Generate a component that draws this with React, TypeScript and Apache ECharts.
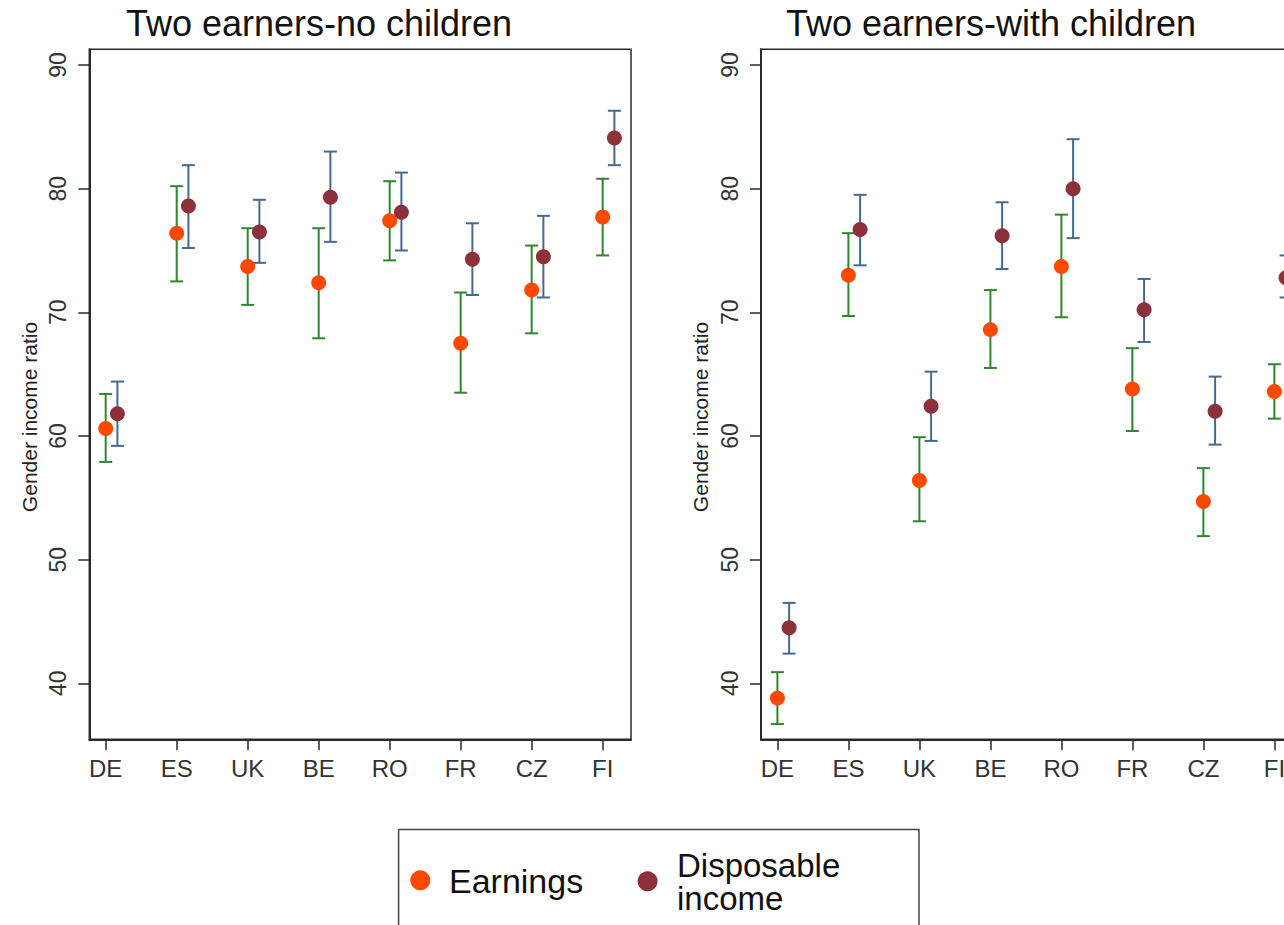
import React, { useEffect, useRef } from "react";
import * as echarts from "echarts";

const categories = ["DE", "ES", "UK", "BE", "RO", "FR", "CZ", "FI"];
const yTicks = [40, 50, 60, 70, 80, 90];

// Two earners - no children
const earnNoKids = [60.6, 76.4, 73.7, 72.4, 77.4, 67.5, 71.8, 77.7];
const earnNoKidsLo = [57.9, 72.5, 70.6, 67.9, 74.2, 63.5, 68.3, 74.6];
const earnNoKidsHi = [63.4, 80.2, 76.8, 76.8, 80.6, 71.6, 75.4, 80.8];
const dispNoKids = [61.8, 78.6, 76.5, 79.3, 78.1, 74.3, 74.5, 84.1];
const dispNoKidsLo = [59.2, 75.2, 74.0, 75.7, 75.0, 71.4, 71.2, 81.9];
const dispNoKidsHi = [64.4, 81.9, 79.1, 83.0, 81.3, 77.2, 77.8, 86.3];

// Two earners - with children
const earnKids = [38.8, 73.0, 56.4, 68.6, 73.7, 63.8, 54.7, 63.6];
const earnKidsLo = [36.7, 69.7, 53.1, 65.5, 69.6, 60.4, 51.9, 61.4];
const earnKidsHi = [40.9, 76.4, 59.9, 71.8, 77.9, 67.1, 57.4, 65.8];
const dispKids = [44.5, 76.7, 62.4, 76.2, 80.0, 70.2, 62.0, 72.8];
const dispKidsLo = [42.4, 73.8, 59.6, 73.5, 76.0, 67.6, 59.3, 71.2];
const dispKidsHi = [46.5, 79.5, 65.2, 78.9, 84.0, 72.7, 64.8, 74.6];

const titles = ["Two earners-no children", "Two earners-with children"];
const legendEarn = "Earnings";
const legendDispLines = ["Disposable", "income"];
const yName = "Gender income ratio";

const FONT = "'Liberation Sans', Arial, Helvetica, sans-serif";
const EARN_COLOR = "#ff4800";
const DISP_COLOR = "#8c303a";
const EARN_CI = "#2e862e";
const DISP_CI = "#46698f";
const AXIS_COLOR = "#2a2a2a";
const DISP_OFFSET = 0.165;

const tickPositions = categories.map((_, i) => i + 1);

function errRender(color: string) {
  return (params: any, api: any) => {
    const x = api.value(0);
    const lo = api.value(1);
    const hi = api.value(2);
    const top = api.coord([x, hi]);
    const bot = api.coord([x, lo]);
    const hw = 6.5;
    const style = { stroke: color, lineWidth: 2 };
    return {
      type: "group",
      children: [
        { type: "line", shape: { x1: top[0], y1: top[1], x2: bot[0], y2: bot[1] }, style },
        { type: "line", shape: { x1: top[0] - hw, y1: top[1], x2: top[0] + hw, y2: top[1] }, style },
        { type: "line", shape: { x1: bot[0] - hw, y1: bot[1], x2: bot[0] + hw, y2: bot[1] }, style },
      ],
    };
  };
}

function panelSeries(
  idx: number,
  earn: number[],
  earnLo: number[],
  earnHi: number[],
  disp: number[],
  dispLo: number[],
  dispHi: number[]
) {
  return [
    {
      type: "custom",
      xAxisIndex: idx,
      yAxisIndex: idx,
      renderItem: errRender(EARN_CI),
      encode: { x: 0, y: [1, 2] },
      data: earn.map((_, i) => [i + 1, earnLo[i], earnHi[i]]),
      z: 2,
      clip: false,
    },
    {
      type: "custom",
      xAxisIndex: idx,
      yAxisIndex: idx,
      renderItem: errRender(DISP_CI),
      encode: { x: 0, y: [1, 2] },
      data: disp.map((_, i) => [i + 1 + DISP_OFFSET, dispLo[i], dispHi[i]]),
      z: 2,
      clip: false,
    },
    {
      type: "scatter",
      name: "Earnings",
      xAxisIndex: idx,
      yAxisIndex: idx,
      symbolSize: 15,
      itemStyle: { color: EARN_COLOR, opacity: 1 },
      data: earn.map((v, i) => [i + 1, v]),
      z: 5,
    },
    {
      type: "scatter",
      name: "Disposable income",
      xAxisIndex: idx,
      yAxisIndex: idx,
      symbolSize: 15,
      itemStyle: { color: DISP_COLOR, opacity: 1 },
      data: disp.map((v, i) => [i + 1 + DISP_OFFSET, v]),
      z: 5,
    },
  ];
}

function xAxisFor(idx: number) {
  return {
    type: "value",
    gridIndex: idx,
    min: 0.769,
    max: 8.399,
    axisLine: { show: true, onZero: false, lineStyle: { color: AXIS_COLOR, width: 2 } },
    axisTick: {
      show: true,
      customValues: tickPositions,
      length: 11,
      lineStyle: { color: AXIS_COLOR, width: 1.5 },
    },
    axisLabel: {
      show: true,
      customValues: tickPositions,
      formatter: (v: number) => categories[Math.round(v) - 1] ?? "",
      fontFamily: FONT,
      fontSize: 24,
      color: "#333",
      margin: 17,
    },
    splitLine: { show: false },
  };
}

function yAxisFor(idx: number) {
  return {
    type: "value",
    gridIndex: idx,
    min: 35.47,
    max: 91.27,
    axisLine: { show: true, onZero: false, lineStyle: { color: AXIS_COLOR, width: 2 } },
    axisTick: {
      show: true,
      customValues: yTicks,
      length: 11,
      lineStyle: { color: AXIS_COLOR, width: 1.5 },
    },
    axisLabel: {
      show: true,
      customValues: yTicks,
      rotate: 90,
      fontFamily: FONT,
      fontSize: 23,
      color: "#333",
      margin: 20,
    },
    splitLine: { show: false },
  };
}

export default function App() {
  const ref = useRef<HTMLDivElement>(null);

  useEffect(() => {
    document.body.style.margin = "0";
    document.body.style.overflow = "hidden";
    document.documentElement.style.overflow = "hidden";
    if (!ref.current) return;
    const chart = echarts.init(ref.current, undefined, { renderer: "svg" });

    const grids = [
      { left: 89.3, top: 49.3, width: 541.7, height: 690, show: true, borderColor: AXIS_COLOR, borderWidth: 1.5, backgroundColor: "transparent" },
      { left: 761, top: 49.3, width: 541.7, height: 690, show: true, borderColor: AXIS_COLOR, borderWidth: 1.5, backgroundColor: "transparent" },
    ];

    const textStyle = (text: string, size: number, extra: any = {}) => ({
      text,
      fontFamily: FONT,
      fontSize: size,
      fill: "#111",
      align: "center",
      verticalAlign: "middle",
      ...extra,
    });

    const option: any = {
      animation: false,
      backgroundColor: "#ffffff",
      grid: grids,
      xAxis: [xAxisFor(0), xAxisFor(1)],
      yAxis: [yAxisFor(0), yAxisFor(1)],
      series: [
        ...panelSeries(0, earnNoKids, earnNoKidsLo, earnNoKidsHi, dispNoKids, dispNoKidsLo, dispNoKidsHi),
        ...panelSeries(1, earnKids, earnKidsLo, earnKidsHi, dispKids, dispKidsLo, dispKidsHi),
      ],
      graphic: [
        { type: "text", x: 319, y: 23, style: textStyle(titles[0], 36) },
        { type: "text", x: 991, y: 23, style: textStyle(titles[1], 36) },
        { type: "text", x: 29, y: 417, rotation: Math.PI / 2, style: textStyle(yName, 21, { fill: "#222" }) },
        { type: "text", x: 700.7, y: 417, rotation: Math.PI / 2, style: textStyle(yName, 21, { fill: "#222" }) },
        {
          type: "rect",
          shape: { x: 398.6, y: 829.6, width: 520.4, height: 140 },
          style: { fill: "#fff", stroke: "#444", lineWidth: 1.5 },
        },
        { type: "circle", shape: { cx: 420.3, cy: 880.3, r: 10 }, style: { fill: EARN_COLOR } },
        { type: "text", x: 449, y: 881, style: textStyle(legendEarn, 34, { align: "left" }) },
        { type: "circle", shape: { cx: 647.6, cy: 881.3, r: 10 }, style: { fill: DISP_COLOR } },
        { type: "text", x: 677, y: 865, style: textStyle(legendDispLines[0], 33, { align: "left" }) },
        { type: "text", x: 677, y: 898.5, style: textStyle(legendDispLines[1], 33, { align: "left" }) },
      ],
    };

    chart.setOption(option);
    return () => chart.dispose();
  }, []);

  return <div ref={ref} style={{ width: 1320, height: 925 }} />;
}
